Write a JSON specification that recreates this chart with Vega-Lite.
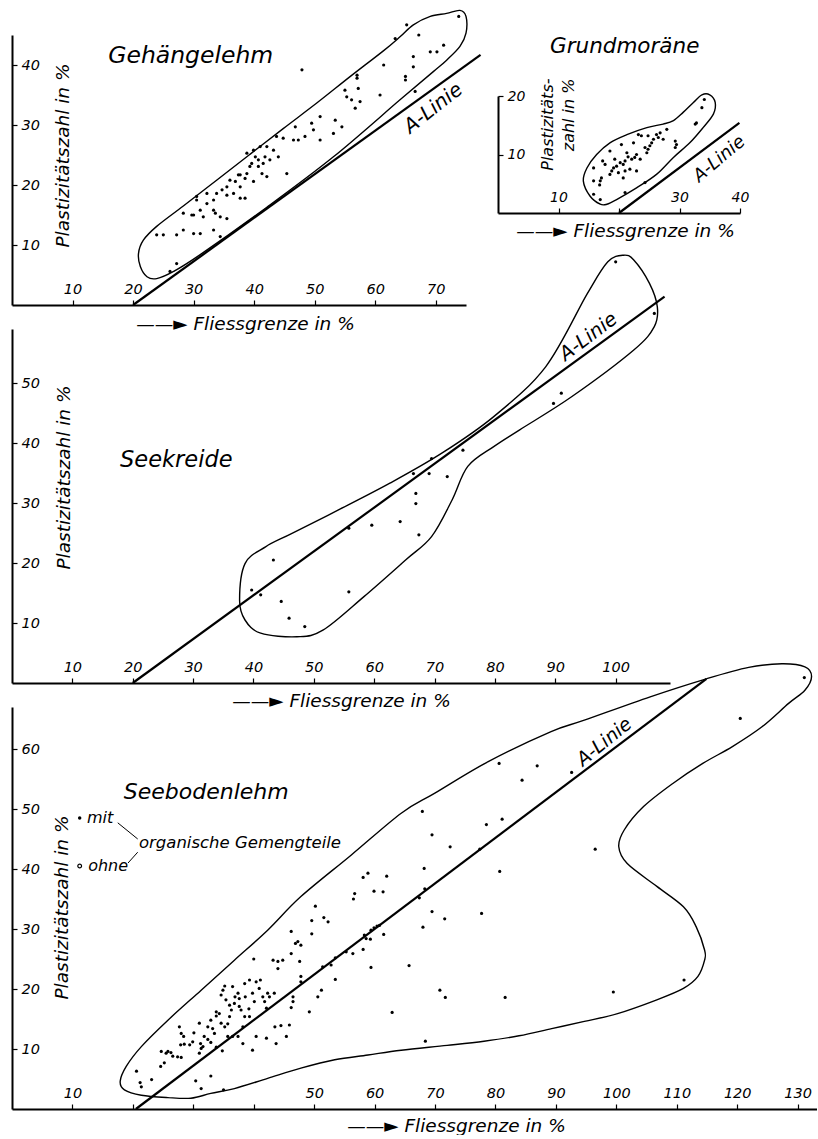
{
  "$schema": "https://vega.github.io/schema/vega-lite/v6.json",
  "autosize": {"type": "pad"},
  "padding": {"left": 11, "top": 7, "right": 0, "bottom": 0},
  "background": "white",
  "bounds": "flush",
  "spacing": 24,
  "config": {
    "view": {"stroke": null},
    "font": "DejaVu Sans",
    "axis": {
      "grid": false,
      "domainColor": "black",
      "domainWidth": 2,
      "tickColor": "black",
      "tickWidth": 1.2,
      "tickSize": 5,
      "labelColor": "black",
      "labelFont": "DejaVu Sans",
      "labelFontStyle": "italic",
      "labelFontSize": 14.5,
      "labelPadding": 4,
      "labelFlush": false,
      "labelOverlap": false,
      "titleColor": "black",
      "titleFont": "DejaVu Sans",
      "titleFontStyle": "italic",
      "titleFontWeight": "normal",
      "titleFontSize": 18.5,
      "titleAlign": "center",
      "titleBaseline": "middle"
    },
    "text": {"font": "DejaVu Sans", "fontStyle": "italic", "color": "black"}
  },
  "datasets": {
    "env1": [
      {"i":0,"LL":23.9,"PI":13.1},{"i":1,"LL":28.3,"PI":16.5},{"i":2,"LL":33.8,"PI":20.8},{"i":3,"LL":39.3,"PI":25.1},
      {"i":4,"LL":44.8,"PI":29.4},{"i":5,"LL":50.4,"PI":33.7},{"i":6,"LL":55.9,"PI":38.1},{"i":7,"LL":61.4,"PI":42.4},
      {"i":8,"LL":64.1,"PI":44.7},{"i":9,"LL":66.3,"PI":46.7},{"i":10,"LL":69.1,"PI":48.1},{"i":11,"LL":71.8,"PI":48.6},
      {"i":12,"LL":74.0,"PI":49.1},{"i":13,"LL":75.0,"PI":48.1},{"i":14,"LL":75.0,"PI":45.3},{"i":15,"LL":74.0,"PI":43.1},
      {"i":16,"LL":71.8,"PI":40.8},{"i":17,"LL":69.6,"PI":38.9},{"i":18,"LL":64.1,"PI":34.2},{"i":19,"LL":53.1,"PI":24.7},
      {"i":20,"LL":42.1,"PI":16.3},{"i":21,"LL":31.1,"PI":8.4},{"i":22,"LL":26.7,"PI":5.6},{"i":23,"LL":23.9,"PI":4.4},
      {"i":24,"LL":22.3,"PI":4.7},{"i":25,"LL":21.2,"PI":6.4},{"i":26,"LL":20.9,"PI":8.6},{"i":27,"LL":21.7,"PI":10.8}
    ],
    "aline1": [{"LL":20,"PI":0},{"LL":77.4,"PI":41.7}],
    "pts1": [
      {"LL":73.8,"PI":48.1},{"LL":65.2,"PI":46.7},{"LL":67.2,"PI":45},{"LL":63.3,"PI":44.4},{"LL":71.3,"PI":43.3},
      {"LL":70.2,"PI":42.2},{"LL":69.1,"PI":42.2},{"LL":66.3,"PI":41.4},{"LL":66.3,"PI":39.7},{"LL":61.4,"PI":40},
      {"LL":65.0,"PI":38.1},{"LL":65.0,"PI":37.5},{"LL":47.9,"PI":39.2},{"LL":57.0,"PI":38.3},{"LL":57.0,"PI":37.8},
      {"LL":55.0,"PI":35.8},{"LL":57.2,"PI":36.1},{"LL":60.8,"PI":35},{"LL":66.6,"PI":35.6},{"LL":55.3,"PI":34.7},
      {"LL":56.1,"PI":34.2},{"LL":57.5,"PI":33.9},{"LL":56.7,"PI":32.8},{"LL":53.4,"PI":30.8},{"LL":50.9,"PI":31.4},
      {"LL":54.5,"PI":29.7},{"LL":53.1,"PI":28.6},{"LL":49.5,"PI":30.3},{"LL":49.8,"PI":29.2},{"LL":46.8,"PI":29.7},
      {"LL":50.9,"PI":27.5},{"LL":48.4,"PI":28.1},{"LL":47.3,"PI":27.5},{"LL":46.5,"PI":27.5},{"LL":44.8,"PI":27.8},
      {"LL":43.7,"PI":28.1},{"LL":42.1,"PI":26.4},{"LL":41.0,"PI":26.4},{"LL":39.9,"PI":25.8},{"LL":38.8,"PI":25.3},
      {"LL":43.2,"PI":25.8},{"LL":41.8,"PI":24.7},{"LL":40.7,"PI":24.2},{"LL":39.6,"PI":23.6},{"LL":44.0,"PI":24.7},
      {"LL":42.1,"PI":21.4},{"LL":40.7,"PI":23.1},{"LL":38.8,"PI":21.9},{"LL":39.9,"PI":20.6},{"LL":37.4,"PI":21.7},
      {"LL":36.9,"PI":20.6},{"LL":36.0,"PI":20.8},{"LL":35.5,"PI":19.7},{"LL":34.7,"PI":19.2},{"LL":33.8,"PI":18.6},
      {"LL":35.5,"PI":18.3},{"LL":36.6,"PI":18.6},{"LL":37.7,"PI":19.7},{"LL":38.5,"PI":17.8},{"LL":45.4,"PI":21.9},
      {"LL":33.3,"PI":17.5},{"LL":33.3,"PI":15.8},{"LL":32.2,"PI":16.9},{"LL":31.1,"PI":15.8},{"LL":31.6,"PI":14.7},
      {"LL":30.0,"PI":15.0},{"LL":30.5,"PI":17.5},{"LL":29.7,"PI":15.0},{"LL":28.3,"PI":15.3},{"LL":33.6,"PI":15.3},
      {"LL":34.4,"PI":14.7},{"LL":35.5,"PI":14.4},{"LL":32.2,"PI":18.6},{"LL":30.5,"PI":18.1},{"LL":33.3,"PI":12.5},
      {"LL":31.1,"PI":11.9},{"LL":30.0,"PI":11.9},{"LL":28.3,"PI":12.5},{"LL":27.2,"PI":11.7},{"LL":25.0,"PI":11.7},
      {"LL":23.9,"PI":11.7},{"LL":34.4,"PI":11.4},{"LL":27.2,"PI":6.9},{"LL":26.1,"PI":5.6},{"LL":37.7,"PI":21.7},
      {"LL":38.5,"PI":21.1},{"LL":39.3,"PI":23.1},{"LL":40.2,"PI":24.7},{"LL":41.5,"PI":23.6},{"LL":42.6,"PI":24.2},
      {"LL":37.7,"PI":17.8},{"LL":41.3,"PI":21.9}
    ],
    "env2": [
      {"i":0,"LL":16.3,"PI":10.0},{"i":1,"LL":18.5,"PI":12.0},{"i":2,"LL":21.3,"PI":13.4},{"i":3,"LL":24.6,"PI":14.6},
      {"i":4,"LL":27.3,"PI":15.2},{"i":5,"LL":29.0,"PI":15.8},{"i":6,"LL":30.6,"PI":17.2},{"i":7,"LL":32.3,"PI":18.9},
      {"i":8,"LL":33.7,"PI":20.2},{"i":9,"LL":35.0,"PI":20.2},{"i":10,"LL":35.9,"PI":18.9},{"i":11,"LL":35.6,"PI":16.9},
      {"i":12,"LL":33.9,"PI":14.6},{"i":13,"LL":31.7,"PI":12.0},{"i":14,"LL":29.0,"PI":9.5},{"i":15,"LL":26.2,"PI":6.6},
      {"i":16,"LL":22.9,"PI":4.3},{"i":17,"LL":19.6,"PI":2.3},{"i":18,"LL":18.0,"PI":1.5},{"i":19,"LL":16.9,"PI":1.5},
      {"i":20,"LL":15.2,"PI":2.9},{"i":21,"LL":14.1,"PI":5.5},{"i":22,"LL":14.7,"PI":7.7}
    ],
    "aline2": [{"LL":20,"PI":0},{"LL":39.9,"PI":15.4}],
    "pts2": [
      {"LL":34.1,"PI":19.4},{"LL":33.7,"PI":18.0},{"LL":32.8,"PI":15.4},{"LL":32.6,"PI":15.2},{"LL":29.5,"PI":11.7},
      {"LL":29.3,"PI":11.2},{"LL":27.9,"PI":14.3},{"LL":26.8,"PI":13.7},{"LL":26.5,"PI":12.9},{"LL":26.2,"PI":13.4},
      {"LL":25.7,"PI":12.6},{"LL":25.4,"PI":12.0},{"LL":25.1,"PI":11.5},{"LL":24.8,"PI":10.9},{"LL":24.6,"PI":10.3},
      {"LL":24.3,"PI":11.2},{"LL":23.7,"PI":13.2},{"LL":23.2,"PI":13.4},{"LL":22.9,"PI":10.0},{"LL":22.6,"PI":9.5},
      {"LL":22.1,"PI":9.2},{"LL":21.5,"PI":9.6},{"LL":21.0,"PI":8.9},{"LL":20.7,"PI":8.3},{"LL":20.2,"PI":8.6},
      {"LL":19.6,"PI":8.0},{"LL":19.1,"PI":7.7},{"LL":18.8,"PI":7.2},{"LL":18.5,"PI":6.6},{"LL":17.7,"PI":8.3},
      {"LL":17.1,"PI":6.0},{"LL":16.9,"PI":5.5},{"LL":16.8,"PI":4.8},{"LL":15.8,"PI":5.5},{"LL":15.8,"PI":7.7},
      {"LL":17.3,"PI":8.9},{"LL":18.5,"PI":10.6},{"LL":19.9,"PI":6.9},{"LL":21.0,"PI":7.2},{"LL":21.8,"PI":7.5},
      {"LL":22.9,"PI":7.2},{"LL":20.7,"PI":6.0},{"LL":21.0,"PI":3.5},{"LL":24.3,"PI":5.2},{"LL":16.9,"PI":2.3},
      {"LL":15.8,"PI":3.2},{"LL":20.4,"PI":11.7},{"LL":22.4,"PI":12.0},{"LL":24.8,"PI":13.2},{"LL":27.3,"PI":12.6},
      {"LL":29.3,"PI":12.3},{"LL":21.3,"PI":10.3},{"LL":23.5,"PI":9.2},{"LL":19.3,"PI":9.2}
    ],
    "env3": [
      {"i":0,"LL":37.7,"PI":13.8},{"i":1,"LL":38.6,"PI":19.9},{"i":2,"LL":42.0,"PI":22.7},{"i":3,"LL":46.3,"PI":24.9},
      {"i":4,"LL":54.0,"PI":28.8},{"i":5,"LL":62.6,"PI":33.3},{"i":6,"LL":71.2,"PI":38.3},{"i":7,"LL":79.8,"PI":44.4},
      {"i":8,"LL":88.4,"PI":52.7},{"i":9,"LL":95.3,"PI":64.9},{"i":10,"LL":98.7,"PI":70.2},{"i":11,"LL":101.3,"PI":71.3},
      {"i":12,"LL":103.0,"PI":70.5},{"i":13,"LL":105.6,"PI":66.6},{"i":14,"LL":106.9,"PI":62.7},{"i":15,"LL":106.4,"PI":59.4},
      {"i":16,"LL":103.0,"PI":55.5},{"i":17,"LL":92.7,"PI":47.7},{"i":18,"LL":84.1,"PI":42.2},{"i":19,"LL":79.8,"PI":39.4},
      {"i":20,"LL":75.5,"PI":36.1},{"i":21,"LL":72.9,"PI":30.5},{"i":22,"LL":69.5,"PI":24.4},{"i":23,"LL":65.2,"PI":20.5},
      {"i":24,"LL":58.3,"PI":14.4},{"i":25,"LL":51.5,"PI":8.8},{"i":26,"LL":47.2,"PI":7.7},{"i":27,"LL":41.2,"PI":8.3},
      {"i":28,"LL":38.6,"PI":10.5}
    ],
    "aline3": [{"LL":20,"PI":0},{"LL":108.1,"PI":64.4}],
    "pts3": [
      {"LL":100.0,"PI":70.2},{"LL":106.4,"PI":61.6},{"LL":91.0,"PI":48.3},{"LL":89.7,"PI":46.6},{"LL":74.7,"PI":38.8},
      {"LL":69.5,"PI":37.4},{"LL":66.5,"PI":34.9},{"LL":69.1,"PI":34.9},{"LL":72.1,"PI":34.4},{"LL":66.9,"PI":31.6},
      {"LL":66.9,"PI":29.9},{"LL":55.8,"PI":25.8},{"LL":59.6,"PI":26.3},{"LL":64.3,"PI":26.9},{"LL":67.4,"PI":24.7},
      {"LL":43.3,"PI":20.5},{"LL":39.7,"PI":15.5},{"LL":41.2,"PI":14.7},{"LL":44.6,"PI":13.6},{"LL":45.9,"PI":10.8},
      {"LL":48.5,"PI":9.4},{"LL":55.8,"PI":15.2}
    ],
    "env4": [
      {"i":0,"LL":17.9,"PI":4.6},{"i":1,"LL":18.9,"PI":7.1},{"i":2,"LL":21.4,"PI":10.4},{"i":3,"LL":25.8,"PI":14.8},
      {"i":4,"LL":31.3,"PI":19.8},{"i":5,"LL":36.8,"PI":24.8},{"i":6,"LL":42.3,"PI":29.8},{"i":7,"LL":47.8,"PI":35.4},
      {"i":8,"LL":56.1,"PI":42.3},{"i":9,"LL":64.4,"PI":49.3},{"i":10,"LL":69.9,"PI":52.6},{"i":11,"LL":78.8,"PI":57.9},
      {"i":12,"LL":89.2,"PI":62.9},{"i":13,"LL":94.7,"PI":64.8},{"i":14,"LL":105.6,"PI":68.7},{"i":15,"LL":114.9,"PI":71.7},
      {"i":16,"LL":121.9,"PI":73.6},{"i":17,"LL":127.4,"PI":74.2},{"i":18,"LL":131.2,"PI":73.7},{"i":19,"LL":132.3,"PI":72.1},
      {"i":20,"LL":131.2,"PI":69.8},{"i":21,"LL":128.5,"PI":67.6},{"i":22,"LL":124.1,"PI":63.7},{"i":23,"LL":119.2,"PI":60.4},
      {"i":24,"LL":114.3,"PI":57.6},{"i":25,"LL":109.4,"PI":54.3},{"i":26,"LL":104.5,"PI":50.4},{"i":27,"LL":101.3,"PI":46.5},
      {"i":28,"LL":100.4,"PI":43.7},{"i":29,"LL":101.8,"PI":40.9},{"i":30,"LL":106.7,"PI":37.1},{"i":31,"LL":111.1,"PI":33.7},
      {"i":32,"LL":113.2,"PI":30.4},{"i":33,"LL":114.6,"PI":26.5},{"i":34,"LL":114.6,"PI":24.8},{"i":35,"LL":113.5,"PI":22.1},
      {"i":36,"LL":111.1,"PI":20.1},{"i":37,"LL":106.7,"PI":18.2},{"i":38,"LL":100.2,"PI":15.9},{"i":39,"LL":94.7,"PI":14.6},
      {"i":40,"LL":89.3,"PI":13.4},{"i":41,"LL":83.9,"PI":12.2},{"i":42,"LL":78.1,"PI":11.3},{"i":43,"LL":72.0,"PI":10.6},
      {"i":44,"LL":64.4,"PI":9.8},{"i":45,"LL":58.9,"PI":9.0},{"i":46,"LL":53.4,"PI":8.2},{"i":47,"LL":47.8,"PI":6.8},
      {"i":48,"LL":42.3,"PI":5.1},{"i":49,"LL":36.8,"PI":3.4},{"i":50,"LL":32.9,"PI":2.6},{"i":51,"LL":29.6,"PI":1.8},
      {"i":52,"LL":25.8,"PI":1.9},{"i":53,"LL":21.4,"PI":2.3},{"i":54,"LL":18.6,"PI":3.2}
    ],
    "aline4": [{"LL":20.5,"PI":0},{"LL":114.9,"PI":71.7}],
    "pts4": [
      {"LL":20.6,"PI":6.3},{"LL":21.2,"PI":4.4},{"LL":21.4,"PI":3.7},{"LL":23.1,"PI":4.9},{"LL":30.4,"PI":4.7},
      {"LL":31.3,"PI":3.4},{"LL":32.9,"PI":5.5},{"LL":35.0,"PI":3.2},{"LL":24.6,"PI":7.1},{"LL":25.2,"PI":7.7},
      {"LL":25.5,"PI":9.3},{"LL":24.7,"PI":9.6},{"LL":25.8,"PI":9.6},{"LL":26.3,"PI":9.4},{"LL":26.6,"PI":8.8},
      {"LL":27.4,"PI":8.7},{"LL":28.0,"PI":8.6},{"LL":27.9,"PI":10.7},{"LL":28.4,"PI":12.1},{"LL":28.0,"PI":12.6},
      {"LL":27.7,"PI":13.7},{"LL":28.5,"PI":10.8},{"LL":29.4,"PI":10.7},{"LL":29.9,"PI":11.2},{"LL":30.1,"PI":12.7},
      {"LL":31.0,"PI":14.3},{"LL":31.3,"PI":10.1},{"LL":31.0,"PI":9.3},{"LL":31.2,"PI":10.9},{"LL":31.8,"PI":12.1},
      {"LL":31.6,"PI":10.4},{"LL":32.4,"PI":11.6},{"LL":32.9,"PI":11.1},{"LL":33.8,"PI":10.3},{"LL":34.8,"PI":9.7},
      {"LL":33.2,"PI":13.4},{"LL":33.5,"PI":12.6},{"LL":32.4,"PI":13.7},{"LL":32.9,"PI":14.8},{"LL":33.8,"PI":15.5},
      {"LL":34.3,"PI":15.9},{"LL":33.8,"PI":16.2},{"LL":34.6,"PI":14.3},{"LL":35.2,"PI":13.7},{"LL":35.7,"PI":12.1},
      {"LL":36.5,"PI":12.1},{"LL":35.7,"PI":14.2},{"LL":36.0,"PI":15.4},{"LL":36.3,"PI":16.5},{"LL":36.0,"PI":17.3},
      {"LL":36.8,"PI":17.6},{"LL":36.9,"PI":18.7},{"LL":37.4,"PI":19.3},{"LL":37.6,"PI":18.4},{"LL":37.9,"PI":16.5},
      {"LL":38.5,"PI":15.4},{"LL":38.2,"PI":13.7},{"LL":37.4,"PI":12.1},{"LL":38.2,"PI":10.9},{"LL":37.6,"PI":17.1},
      {"LL":35.4,"PI":18.2},{"LL":34.9,"PI":19.8},{"LL":34.6,"PI":19.0},{"LL":35.2,"PI":20.5},{"LL":36.5,"PI":20.4},
      {"LL":38.5,"PI":20.9},{"LL":39.3,"PI":21.5},{"LL":39.8,"PI":19.3},{"LL":40.1,"PI":17.9},{"LL":39.3,"PI":15.4},
      {"LL":39.2,"PI":16.7},{"LL":38.6,"PI":18.7},{"LL":40.4,"PI":12.1},{"LL":40.4,"PI":21.2},{"LL":41.1,"PI":21.5},
      {"LL":40.9,"PI":20.1},{"LL":41.5,"PI":18.7},{"LL":41.8,"PI":17.9},{"LL":42.6,"PI":18.7},{"LL":43.4,"PI":19.3},
      {"LL":42.3,"PI":19.3},{"LL":42.1,"PI":16.8},{"LL":43.5,"PI":13.7},{"LL":44.5,"PI":13.9},{"LL":45.9,"PI":14.0},
      {"LL":45.4,"PI":12.1},{"LL":43.7,"PI":10.9},{"LL":42.1,"PI":11.8},{"LL":39.8,"PI":9.8},{"LL":40.0,"PI":25.0},
      {"LL":43.2,"PI":24.8},{"LL":44.0,"PI":24.6},{"LL":44.8,"PI":24.8},{"LL":44.0,"PI":23.4},{"LL":46.2,"PI":25.9},
      {"LL":46.5,"PI":18.7},{"LL":46.2,"PI":16.9},{"LL":46.5,"PI":17.9},{"LL":49.2,"PI":16.2},{"LL":47.8,"PI":22.1},
      {"LL":47.8,"PI":21.2},{"LL":46.9,"PI":27.6},{"LL":47.3,"PI":27.9},{"LL":47.8,"PI":27.3},{"LL":47.6,"PI":24.6},
      {"LL":46.2,"PI":29.6},{"LL":49.6,"PI":29.2},{"LL":49.6,"PI":31.4},{"LL":50.2,"PI":33.8},{"LL":51.6,"PI":31.9},
      {"LL":52.3,"PI":31.2},{"LL":50.6,"PI":18.7},{"LL":51.2,"PI":19.8},{"LL":51.4,"PI":23.7},
      {"LL":52.8,"PI":24.0},{"LL":53.5,"PI":25.2},{"LL":53.5,"PI":21.6},{"LL":55.3,"PI":26.2},{"LL":56.4,"PI":25.9},
      {"LL":56.5,"PI":35.0},{"LL":56.7,"PI":35.9},{"LL":58.1,"PI":38.6},{"LL":58.9,"PI":39.3},{"LL":59.9,"PI":36.3},
      {"LL":61.4,"PI":36.2},{"LL":62.0,"PI":38.8},{"LL":58.1,"PI":26.6},{"LL":58.3,"PI":29.0},{"LL":58.6,"PI":28.4},
      {"LL":59.3,"PI":28.3},{"LL":59.4,"PI":29.8},{"LL":59.9,"PI":30.2},{"LL":60.4,"PI":30.5},{"LL":60.8,"PI":30.6},
      {"LL":61.5,"PI":29.1},{"LL":59.4,"PI":23.6},{"LL":62.9,"PI":16.1},{"LL":65.7,"PI":23.9},{"LL":67.9,"PI":49.6},
      {"LL":68.2,"PI":40.1},{"LL":68.3,"PI":36.7},{"LL":67.4,"PI":35.2},{"LL":68.0,"PI":30.3},{"LL":68.4,"PI":11.3},
      {"LL":69.5,"PI":45.7},{"LL":69.5,"PI":32.9},{"LL":70.8,"PI":19.8},{"LL":71.7,"PI":18.6},{"LL":71.6,"PI":31.7},
      {"LL":72.5,"PI":43.7},{"LL":77.4,"PI":43.3},{"LL":77.7,"PI":32.6},{"LL":78.5,"PI":47.4},{"LL":80.6,"PI":57.6},
      {"LL":81.1,"PI":48.3},{"LL":80.7,"PI":39.6},{"LL":81.6,"PI":18.6},{"LL":84.4,"PI":54.8},{"LL":86.9,"PI":57.2},
      {"LL":92.6,"PI":56.1},{"LL":120.5,"PI":65.1},{"LL":131.1,"PI":71.9},{"LL":96.5,"PI":43.3},{"LL":111.2,"PI":21.5},
      {"LL":99.5,"PI":19.5}
    ]
  },
  "vconcat": [
    {
      "width": 454,
      "height": 270,
      "resolve": {"scale": {"x": "independent", "y": "independent"}, "axis": {"x": "independent", "y": "independent"}},
      "layer": [
        {
          "encoding": {
            "x": {"field": "LL", "type": "quantitative", "scale": {"domain": [0, 75], "nice": false, "zero": false},
              "axis": {"orient": "top", "offset": -270, "values": [10,20,30,40,50,60,70], "title": "——► Fliessgrenze in %", "titleX": 233, "titleY": 18}},
            "y": {"field": "PI", "type": "quantitative", "scale": {"domain": [0, 45], "nice": false, "zero": false},
              "axis": {"orient": "right", "offset": -454, "values": [10,20,30,40], "title": "Plastizitätszahl in %", "titleAngle": 270, "titleX": 50, "titleY": 120}}
          },
          "layer": [
            {"data": {"name": "env1"}, "mark": {"type": "line", "interpolate": "cardinal-closed", "color": "black", "strokeWidth": 1.4}, "encoding": {"order": {"field": "i", "type": "quantitative"}}},
            {"data": {"name": "aline1"}, "mark": {"type": "line", "color": "black", "strokeWidth": 2.2}, "encoding": {}},
            {"data": {"name": "pts1"}, "mark": {"type": "circle", "color": "black", "size": 10, "opacity": 1}, "encoding": {}},
            {"data": {"values": [{"LL": 15.9, "PI": 41.5, "label": "Gehängelehm"}]}, "mark": {"type": "text", "align": "left", "baseline": "middle", "fontSize": 23.5}, "encoding": {"text": {"field": "label"}}},
            {"data": {"values": [{"LL": 69.6, "PI": 32.8, "label": "A-Linie"}]}, "mark": {"type": "text", "align": "center", "baseline": "middle", "fontSize": 20, "angle": 322}, "encoding": {"text": {"field": "label"}}}
          ]
        },
        {
          "encoding": {
            "x": {"field": "LL", "type": "quantitative", "scale": {"domain": [0, 40], "range": [486, 728], "nice": false, "zero": false},
              "axis": {"orient": "top", "offset": -178, "values": [10,20,30,40], "labelExpr": "datum.value == 20 ? '' : datum.label", "labelFontSize": 14, "title": "——► Fliessgrenze in %", "titleX": 613, "titleY": 17}},
            "y": {"field": "PI", "type": "quantitative", "scale": {"domain": [0, 20], "range": [178, 61], "nice": false, "zero": false},
              "axis": {"orient": "right", "offset": 32, "values": [10,20], "labelFontSize": 14, "title": ["Plastizitäts-", "zahl in %"], "titleFontSize": 16, "titleLineHeight": 21, "titleAngle": 270, "titleAlign": "right", "titleBaseline": "top", "titleX": 41, "titleY": 43}}
          },
          "layer": [
            {"data": {"name": "env2"}, "mark": {"type": "line", "interpolate": "cardinal-closed", "color": "black", "strokeWidth": 1.4}, "encoding": {"order": {"field": "i", "type": "quantitative"}}},
            {"data": {"name": "aline2"}, "mark": {"type": "line", "color": "black", "strokeWidth": 2.2}, "encoding": {}},
            {"data": {"name": "pts2"}, "mark": {"type": "circle", "color": "black", "size": 10, "opacity": 1}, "encoding": {}},
            {"data": {"values": [{"LL": 8.6, "PI": 28.3, "label": "Grundmoräne"}]}, "mark": {"type": "text", "align": "left", "baseline": "middle", "fontSize": 21.5}, "encoding": {"text": {"field": "label"}}},
            {"data": {"values": [{"LL": 36.6, "PI": 9.2, "label": "A-Linie"}]}, "mark": {"type": "text", "align": "center", "baseline": "middle", "fontSize": 18, "angle": 320}, "encoding": {"text": {"field": "label"}}}
          ]
        }
      ]
    },
    {
      "width": 658,
      "height": 354,
      "encoding": {
        "x": {"field": "LL", "type": "quantitative", "scale": {"domain": [0, 109], "nice": false, "zero": false},
          "axis": {"orient": "top", "offset": -354, "values": [10,20,30,40,50,60,70,80,90,100], "title": "——► Fliessgrenze in %", "titleX": 329, "titleY": 17}},
        "y": {"field": "PI", "type": "quantitative", "scale": {"domain": [0, 59], "nice": false, "zero": false},
          "axis": {"orient": "right", "offset": -658, "values": [10,20,30,40,50], "title": "Plastizitätszahl in %", "titleAngle": 270, "titleX": 51, "titleY": 148}}
      },
      "layer": [
        {"data": {"name": "env3"}, "mark": {"type": "line", "interpolate": "cardinal-closed", "color": "black", "strokeWidth": 1.4}, "encoding": {"order": {"field": "i", "type": "quantitative"}}},
        {"data": {"name": "aline3"}, "mark": {"type": "line", "color": "black", "strokeWidth": 2.2}, "encoding": {}},
        {"data": {"name": "pts3"}, "mark": {"type": "circle", "color": "black", "size": 10, "opacity": 1}, "encoding": {}},
        {"data": {"values": [{"LL": 17.9, "PI": 37.2, "label": "Seekreide"}]}, "mark": {"type": "text", "align": "left", "baseline": "middle", "fontSize": 22.5}, "encoding": {"text": {"field": "label"}}},
        {"data": {"values": [{"LL": 95.5, "PI": 57.7, "label": "A-Linie"}]}, "mark": {"type": "text", "align": "center", "baseline": "middle", "fontSize": 19.5, "angle": 323}, "encoding": {"text": {"field": "label"}}}
      ]
    },
    {
      "width": 805,
      "height": 402,
      "encoding": {
        "x": {"field": "LL", "type": "quantitative", "scale": {"domain": [0, 133.2], "nice": false, "zero": false},
          "axis": {"orient": "top", "offset": -402, "values": [10,20,30,40,50,60,70,80,90,100,110,120,130], "labelExpr": "(datum.value == 20 || datum.value == 30 || datum.value == 40) ? '' : datum.label", "title": "——► Fliessgrenze in %", "titleX": 444, "titleY": 16}},
        "y": {"field": "PI", "type": "quantitative", "scale": {"domain": [0, 67], "nice": false, "zero": false},
          "axis": {"orient": "right", "offset": -805, "values": [10,20,30,40,50,60], "title": "Plastizitätszahl in %", "titleAngle": 270, "titleX": 49, "titleY": 200}}
      },
      "layer": [
        {"data": {"name": "env4"}, "mark": {"type": "line", "interpolate": "cardinal-closed", "color": "black", "strokeWidth": 1.4}, "encoding": {"order": {"field": "i", "type": "quantitative"}}},
        {"data": {"name": "aline4"}, "mark": {"type": "line", "color": "black", "strokeWidth": 2.2}, "encoding": {}},
        {"data": {"name": "pts4"}, "mark": {"type": "circle", "color": "black", "size": 10, "opacity": 1}, "encoding": {}},
        {"data": {"values": [{"LL": 18.5, "PI": 52.8, "label": "Seebodenlehm"}]}, "mark": {"type": "text", "align": "left", "baseline": "middle", "fontSize": 22}, "encoding": {"text": {"field": "label"}}},
        {"data": {"values": [{"LL": 98.0, "PI": 61.2, "label": "A-Linie"}]}, "mark": {"type": "text", "align": "center", "baseline": "middle", "fontSize": 19, "angle": 321}, "encoding": {"text": {"field": "label"}}},
        {"data": {"values": [{"LL": 11.2, "PI": 48.5, "kind": "mit"}]}, "mark": {"type": "circle", "color": "black", "size": 12, "opacity": 1}, "encoding": {}},
        {"data": {"values": [{"LL": 11.2, "PI": 40.5, "kind": "ohne"}]}, "mark": {"type": "point", "shape": "circle", "filled": false, "color": "black", "size": 14, "strokeWidth": 1.2, "opacity": 1}, "encoding": {}},
        {"data": {"values": [{"LL": 12.4, "PI": 48.5, "label": "mit"}, {"LL": 12.6, "PI": 40.5, "label": "ohne"}]}, "mark": {"type": "text", "align": "left", "baseline": "middle", "fontSize": 16}, "encoding": {"text": {"field": "label"}}},
        {"data": {"values": [{"LL": 21.0, "PI": 44.3, "label": "organische Gemengteile"}]}, "mark": {"type": "text", "align": "left", "baseline": "middle", "fontSize": 16.5}, "encoding": {"text": {"field": "label"}}},
        {"data": {"values": [{"LL": 17.5, "PI": 47.7, "LL2": 20.8, "PI2": 45.0}, {"LL": 19.2, "PI": 41.0, "LL2": 20.8, "PI2": 42.8}]}, "mark": {"type": "rule", "color": "black", "strokeWidth": 1}, "encoding": {"x2": {"field": "LL2"}, "y2": {"field": "PI2"}}}
      ]
    }
  ]
}
